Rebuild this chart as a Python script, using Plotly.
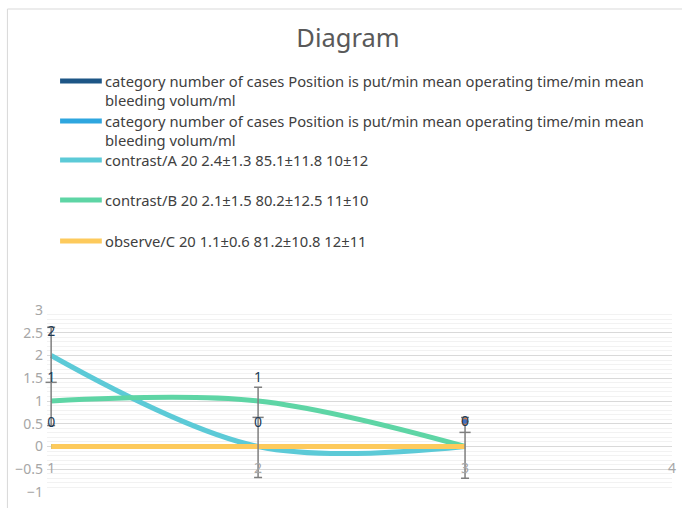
import plotly.graph_objects as go

# ---- data ----
x_vals = [1, 2, 3]
series_names = [
    "category number of cases Position is put/min mean operating time/min mean<br>bleeding volum/ml",
    "category number of cases Position is put/min mean operating time/min mean<br>bleeding volum/ml",
    "contrast/A 20 2.4±1.3 85.1±11.8 10±12",
    "contrast/B 20 2.1±1.5 80.2±12.5 11±10",
    "observe/C 20 1.1±0.6 81.2±10.8 12±11",
]
series_colors = ["#1D5686", "#2EA6DF", "#5CCAD7", "#5ED5A5", "#FDCA5C"]
dark1_vals = [0, 0, 0]
dark2_vals = [0, 0, 0]
a_vals = [2, 0, 0]
b_vals = [1, 1, 0]
c_vals = [0, 0, 0]

# data labels
label_x = [1, 1, 1, 2, 2, 3]
label_y = [2.5, 1.5, 0.5, 1.5, 0.5, 0.52]
label_text = ["2", "1", "0", "1", "0", "0"]

# error bars (top, middle, bottom)
err_top = [2.62, 1.30, 0.64]
err_mid = [1.41, 0.64, 0.31]
err_bot = [0.46, -0.68, -0.70]

x_ticks = [1, 2, 3, 4]
x_range = [0.98, 4.0]

# ---- layout helpers ----
W, H = 682, 508
X1_PIX, X4_PIX = 51, 676
unit = (X4_PIX - X1_PIX) / 3.0
L = X1_PIX - (1 - x_range[0]) * unit
R = X4_PIX
T, B = 310, 492


def px(xp):
    return (xp - L) / (R - L)


def py(yp):
    return (B - yp) / (B - T)


fig = go.Figure()

all_vals = [dark1_vals, dark2_vals, a_vals, b_vals, c_vals]
for name, col, vals in zip(series_names, series_colors, all_vals):
    fig.add_trace(go.Scatter(
        x=x_vals, y=vals, mode="lines", name=name.replace("<br>", " "),
        line=dict(color=col, width=5, shape="spline", smoothing=1),
        showlegend=False, hoverinfo="skip"))

# error bars
fig.add_trace(go.Scatter(
    x=x_vals, y=err_mid, mode="markers", cliponaxis=False,
    marker=dict(symbol="line-ew", size=8, line=dict(color="#7f7f7f", width=1.5)),
    error_y=dict(type="data", symmetric=False,
                 array=[t - m for t, m in zip(err_top, err_mid)],
                 arrayminus=[m - b for m, b in zip(err_mid, err_bot)],
                 color="#7f7f7f", thickness=1.5, width=4),
    showlegend=False, hoverinfo="skip"))

# small marker at x=3
fig.add_trace(go.Scatter(
    x=[3], y=[0.55], mode="markers", cliponaxis=False,
    marker=dict(symbol="circle", size=6, color="#4472C4",
                line=dict(color="#ED7D31", width=1)),
    showlegend=False, hoverinfo="skip"))

# data labels
fig.add_trace(go.Scatter(
    x=label_x, y=label_y, mode="text", text=label_text, cliponaxis=False,
    textfont=dict(family="Noto Sans", size=14, color="#203A55"),
    showlegend=False, hoverinfo="skip"))

# ---- manual legend ----
legend_y = [90.5, 130.5, 160, 200, 241]
swatch_y = [81, 121, 160, 200, 241]
shapes = []
annotations = []
for name, col, ly, sy in zip(series_names, series_colors, legend_y, swatch_y):
    shapes.append(dict(type="line", xref="paper", yref="paper",
                       x0=px(60), x1=px(102), y0=py(sy), y1=py(sy),
                       line=dict(color=col, width=5)))
    annotations.append(dict(xref="paper", yref="paper", x=px(103), y=py(ly),
                            xanchor="left", yanchor="middle", align="left",
                            text=name, showarrow=False,
                            font=dict(family="Noto Sans", size=14.75, color="#404040")))

# chart border
shapes.append(dict(type="rect", xref="paper", yref="paper",
                   x0=px(7), x1=px(700), y0=py(520), y1=py(9),
                   line=dict(color="#d9d9d9", width=1), layer="below"))

fig.update_layout(
    width=W, height=H,
    margin=dict(l=L, r=W - R, t=T, b=H - B),
    paper_bgcolor="white", plot_bgcolor="white",
    title=dict(text="Diagram", x=348 / W, xref="container", xanchor="center",
               y=1 - 38 / H, yref="container", yanchor="middle",
               font=dict(family="Noto Sans", size=25.5, color="#595959")),
    shapes=shapes, annotations=annotations,
    xaxis=dict(range=x_range, tickvals=x_ticks, showgrid=False, zeroline=False,
               showline=False, anchor="free", position=0.25,
               ticklabelstandoff=11,
               tickfont=dict(family="Noto Sans", size=14, color="#a6a6a6")),
    yaxis=dict(range=[-1, 3], dtick=0.5, showgrid=True, gridcolor="#d9d9d9",
               gridwidth=1, zeroline=False, showline=False,
               ticklabelstandoff=3,
               tickfont=dict(family="Noto Sans", size=14, color="#a6a6a6"),
               minor=dict(dtick=0.1, showgrid=True, gridcolor="#f2f2f2")),
    showlegend=False,
)

fig.write_html("out.html", config={"displayModeBar": False},
               post_script="document.body.style.margin='0';")
